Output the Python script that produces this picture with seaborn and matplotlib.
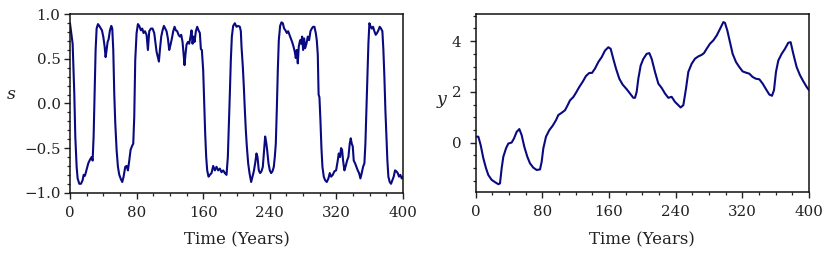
import numpy as np
import pandas as pd
import matplotlib
matplotlib.use("Agg")
import matplotlib.pyplot as plt
from matplotlib.ticker import MultipleLocator
import seaborn as sns

# ---- data ----
s_time = [0, 3.2, 5.2, 6.4, 8, 9.2, 11.2, 13.2, 15.2, 16.4, 18, 20, 22, 24, 26, 27.2, 28.4, 29.6, 30.8,
          32, 33.6, 35.2, 37.2, 38.4, 40, 41.6, 42.8, 44, 45.2, 46.4, 48, 49.6, 50.8, 52, 53.2, 54.4,
          56, 57.6, 59.2, 61.2, 62.8, 64.4, 66.4, 68, 69.6, 71.2, 72.8, 74.4, 76, 77.2, 78.4, 80,
          81.6, 83.2, 85.2, 86.8, 88.4, 90, 92, 93.6, 95.2, 97.2, 99.2, 101.2, 102.8, 104, 105.6,
          106.8, 108, 109.6, 111.2, 112.8, 114.4, 116, 117.6, 119.2, 120.8, 122.4, 124, 125.6, 127.2,
          128.8, 130.4, 132, 133.6, 135.2, 136.4, 137.6, 138.8, 140, 141.6, 143.2, 144.8, 146, 147.2,
          148.4, 149.6, 151.2, 152.8, 154.4, 156, 157.2, 158.4, 160, 161.2, 162.4, 163.6, 164.8, 166.4,
          168, 170, 172, 174, 176, 178, 180, 182, 184, 186, 188, 189.6, 190.8, 192, 193.2, 194.4, 196,
          198, 200, 202, 204, 205.2, 206, 207.6, 208.8, 210, 211.2, 212.4, 214, 215.6, 217.6, 219.2,
          220.8, 222.4, 224, 225.2, 226.8, 228.4, 230, 231.6, 233.2, 234.4, 235.6, 236.8, 238.4, 240,
          241.6, 243.2, 244.8, 246, 247.2, 248.4, 249.6, 250.8, 252.4, 254, 255.6, 257.2, 258.8, 260.4,
          262, 263.6, 265.2, 266.8, 268.4, 270, 271.2, 272.4, 273.6, 274.8, 276.4, 277.6, 278.8, 280,
          281.2, 282.4, 284, 285.6, 287.2, 288.8, 290.4, 292, 293.6, 295.2, 296.4, 297.6, 298.6, 299.6,
          300.8, 302, 303.2, 304.8, 306.4, 308.4, 310.4, 312, 313.6, 315.6, 317.6, 319.6, 321.6, 322.8,
          324.4, 325.6, 326.8, 328, 329.6, 331.2, 332.8, 334.4, 336, 337.2, 338.4, 339.6, 340.8, 342.4,
          344, 345.6, 347.2, 348.8, 350.4, 352, 353.6, 354.8, 356, 357.2, 358.4, 359.6, 360.8, 362.4,
          364, 365.6, 367.2, 368.8, 370.4, 372, 373.6, 375.2, 376.4, 377.6, 378.8, 380, 381.2, 382.4,
          384, 385.6, 387.2, 388.8, 390.4, 392, 393.6, 395.2, 396.8, 398.4, 400]
s_value = [0.90, 0.67, 0.11, -0.37, -0.71, -0.84, -0.90, -0.90, -0.86, -0.80, -0.81, -0.74, -0.67, -0.63,
           -0.60, -0.64, -0.37, 0.11, 0.60, 0.84, 0.89, 0.87, 0.84, 0.82, 0.75, 0.64, 0.52, 0.60, 0.69,
           0.72, 0.82, 0.87, 0.84, 0.60, 0.11, -0.22, -0.52, -0.71, -0.80, -0.85, -0.88, -0.82, -0.71,
           -0.70, -0.75, -0.64, -0.52, -0.48, -0.45, -0.15, 0.49, 0.79, 0.89, 0.87, 0.82, 0.84, 0.79,
           0.81, 0.77, 0.60, 0.81, 0.84, 0.84, 0.79, 0.67, 0.58, 0.52, 0.47, 0.60, 0.75, 0.82, 0.87,
           0.84, 0.81, 0.73, 0.60, 0.66, 0.73, 0.81, 0.86, 0.82, 0.81, 0.77, 0.75, 0.77, 0.69, 0.56,
           0.43, 0.56, 0.66, 0.69, 0.67, 0.75, 0.82, 0.67, 0.75, 0.69, 0.81, 0.86, 0.82, 0.79, 0.61,
           0.60, 0.37, 0.00, -0.34, -0.60, -0.75, -0.82, -0.80, -0.78, -0.70, -0.75, -0.71, -0.75,
           -0.73, -0.77, -0.75, -0.78, -0.80, -0.60, -0.26, 0.11, 0.49, 0.75, 0.87, 0.90, 0.86, 0.87,
           0.86, 0.81, 0.64, 0.41, 0.19, -0.07, -0.30, -0.48, -0.67, -0.78, -0.88, -0.82, -0.76, -0.67,
           -0.56, -0.60, -0.75, -0.78, -0.76, -0.71, -0.52, -0.37, -0.43, -0.52, -0.67, -0.75, -0.78,
           -0.76, -0.71, -0.60, -0.45, -0.07, 0.37, 0.71, 0.87, 0.91, 0.90, 0.84, 0.82, 0.79, 0.81,
           0.77, 0.73, 0.69, 0.64, 0.58, 0.51, 0.60, 0.45, 0.64, 0.71, 0.67, 0.75, 0.60, 0.73, 0.62,
           0.67, 0.75, 0.71, 0.81, 0.84, 0.86, 0.86, 0.79, 0.71, 0.55, 0.10, 0.07, -0.19, -0.50, -0.71,
           -0.82, -0.86, -0.88, -0.84, -0.78, -0.82, -0.80, -0.76, -0.75, -0.64, -0.56, -0.60, -0.50,
           -0.52, -0.64, -0.75, -0.70, -0.64, -0.60, -0.45, -0.39, -0.45, -0.48, -0.64, -0.67, -0.71,
           -0.75, -0.78, -0.84, -0.78, -0.71, -0.67, -0.45, -0.07, 0.30, 0.67, 0.90, 0.87, 0.84, 0.86,
           0.81, 0.77, 0.79, 0.82, 0.86, 0.84, 0.81, 0.60, 0.30, -0.07, -0.37, -0.64, -0.82, -0.88,
           -0.90, -0.86, -0.82, -0.75, -0.76, -0.78, -0.82, -0.80, -0.84, -0.82]

y_time = [0, 3.2, 6, 9.2, 12.4, 15.2, 19.2, 23.2, 27.2, 29.2, 31.2, 33.2, 36.4, 39.2, 43.2, 46, 49.2,
          52.4, 55.2, 58.4, 62, 65.2, 69.2, 73.2, 77.2, 79.2, 81.2, 84.4, 88.4, 92.4, 96.4, 99.2, 103.2,
          107.2, 110.4, 113.2, 117.2, 120.4, 124.4, 128.4, 132.4, 136.4, 139.6, 143.2, 147.2, 151.2,
          155.2, 159.2, 162, 165.2, 168.4, 172.4, 176.4, 181.2, 185.2, 189.2, 191.2, 193.2, 195.2, 198,
          201.2, 205.2, 208.4, 211.2, 215.2, 219.2, 223.2, 227.2, 231.2, 235.2, 239.2, 243.2, 246,
          249.2, 252.4, 255.2, 259.2, 263.2, 267.2, 271.2, 274, 277.2, 281.2, 285.2, 289.2, 293.2,
          297.2, 299.2, 302, 305.2, 308.4, 312.4, 316.4, 320.4, 324.4, 328.4, 332.4, 336.4, 340.4,
          344.4, 348.4, 352.4, 355.6, 358, 360.4, 363.2, 367.2, 371.2, 375.2, 378, 381.2, 385.2, 389.2,
          393.2, 397.2, 400]
y_value = [0.24, 0.24, -0.09, -0.61, -1.00, -1.27, -1.46, -1.55, -1.63, -1.60, -1.00, -0.55, -0.22,
           -0.03, 0.01, 0.17, 0.43, 0.54, 0.30, -0.16, -0.55, -0.81, -0.98, -1.07, -1.05, -0.75, -0.22,
           0.24, 0.50, 0.67, 0.89, 1.09, 1.18, 1.28, 1.48, 1.67, 1.80, 1.97, 2.20, 2.40, 2.63, 2.75,
           2.75, 2.92, 3.18, 3.37, 3.63, 3.76, 3.70, 3.30, 2.92, 2.52, 2.29, 2.11, 1.94, 1.77, 1.77,
           2.00, 2.52, 3.04, 3.30, 3.50, 3.53, 3.31, 2.79, 2.33, 2.16, 1.94, 1.77, 1.81, 1.61, 1.48,
           1.39, 1.48, 2.13, 2.79, 3.11, 3.31, 3.40, 3.46, 3.53, 3.70, 3.90, 4.03, 4.22, 4.48, 4.75,
           4.72, 4.42, 3.96, 3.50, 3.18, 2.98, 2.81, 2.76, 2.72, 2.59, 2.52, 2.50, 2.33, 2.11, 1.90,
           1.85, 2.07, 2.79, 3.24, 3.50, 3.70, 3.94, 3.96, 3.50, 2.98, 2.66, 2.42, 2.20, 2.07]

x_ticks = [0, 80, 160, 240, 320, 400]

df_s = pd.DataFrame({"t": s_time, "v": s_value})
df_y = pd.DataFrame({"t": y_time, "v": y_value})

sns.set_style("ticks")
plt.rcParams["font.family"] = ["DejaVu Serif"]
plt.rcParams["axes.linewidth"] = 1.1

LINE = "#0a0a80"
fig = plt.figure(figsize=(8.31, 2.58), dpi=100)
ax1 = fig.add_axes([0.0842, 0.2531, 0.4008, 0.6915])
ax2 = fig.add_axes([0.5724, 0.2547, 0.4011, 0.6910])

sns.lineplot(data=df_s, x="t", y="v", ax=ax1, color=LINE, lw=1.5)
sns.lineplot(data=df_y, x="t", y="v", ax=ax2, color=LINE, lw=1.5)

ax1.set_xlim(0, 400)
ax1.set_ylim(-1, 1)
ax1.yaxis.set_major_locator(MultipleLocator(0.5))
ax1.yaxis.set_minor_locator(MultipleLocator(0.1))
ax2.set_xlim(0, 400)
ax2.margins(y=0.05)
ax2.yaxis.set_major_locator(MultipleLocator(2))
ax2.yaxis.set_minor_locator(MultipleLocator(0.5))

for ax in (ax1, ax2):
    ax.set_xticks(x_ticks)
    ax.xaxis.set_minor_locator(MultipleLocator(20))
    ax.tick_params(which="major", direction="out", length=4.3, width=1.0, labelsize=10.8,
                   colors="#222222", pad=2.5)
    ax.tick_params(which="minor", direction="out", length=2.4, width=0.9)
    ax.tick_params(axis="x", which="major", pad=5)
    ax.set_xlabel("Time (Years)", fontsize=12, color="#222222", labelpad=8.5)
    for sp in ax.spines.values():
        sp.set_visible(True)
        sp.set_color("#111111")

ax2.tick_params(axis="y", which="major", pad=6)

ax1.set_ylabel("s", fontsize=12.5, style="italic", rotation=0, ha="center", va="bottom")
ax1.yaxis.set_label_coords(-0.177, 0.5)
ax2.set_ylabel("y", fontsize=12.5, style="italic", rotation=0, ha="center", va="bottom")
ax2.yaxis.set_label_coords(-0.102, 0.47)

fig.savefig("out.png", dpi=100)
